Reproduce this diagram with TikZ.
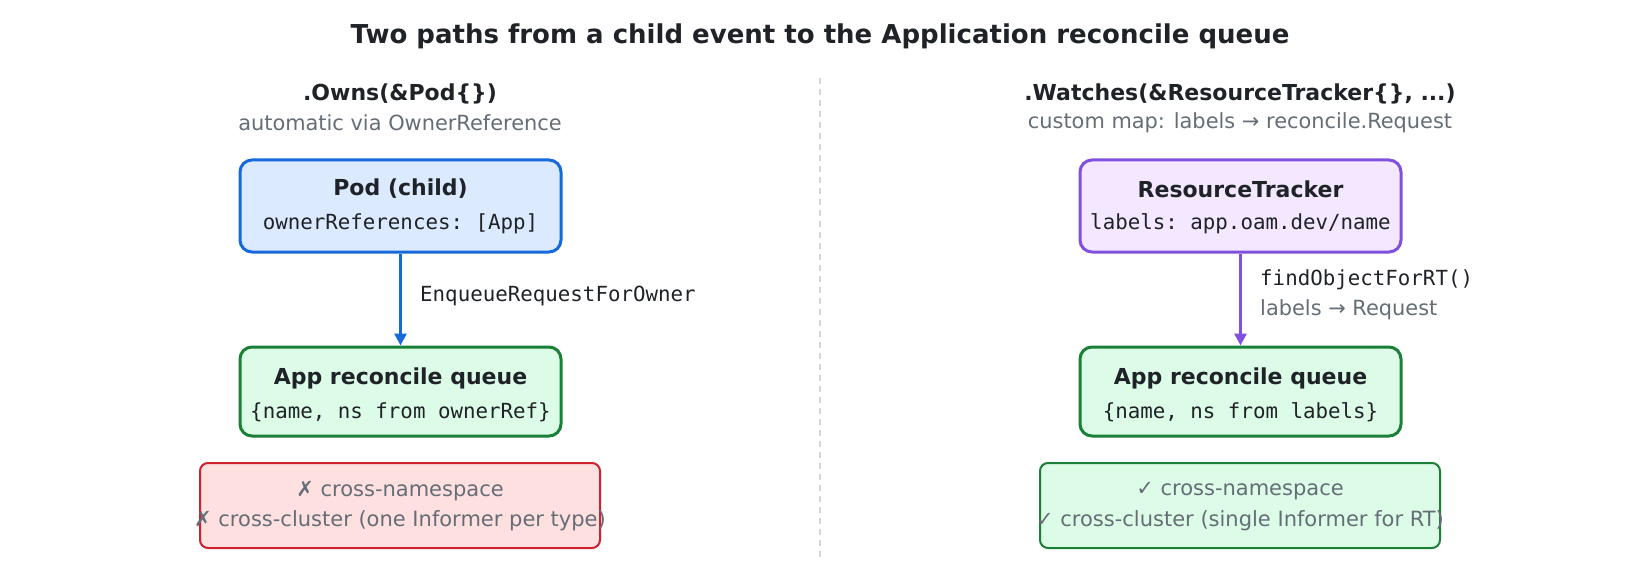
\documentclass[tikz,border=0pt]{standalone}
\usepackage{fontspec}
\setmainfont{DejaVu Sans}
\setmonofont{DejaVu Sans Mono}
\usetikzlibrary{arrows.meta}
\definecolor{ink}{HTML}{1F2328}
\definecolor{muted}{HTML}{656D76}
\definecolor{bluestroke}{HTML}{1769DB}
\definecolor{bluefill}{HTML}{DBEAFE}
\definecolor{greenstroke}{HTML}{1A7F37}
\definecolor{greenfill}{HTML}{DCFCE7}
\definecolor{purplestroke}{HTML}{8250DF}
\definecolor{purplefill}{HTML}{F3E8FF}
\definecolor{redstroke}{HTML}{CF222E}
\definecolor{redfill}{HTML}{FFE0E0}
\definecolor{divider}{HTML}{D0D7DE}
\tikzset{
  mainbox/.style={draw, line width=3pt, rounded corners=12pt, minimum width=321pt, minimum height=92pt, inner sep=0pt},
  notebox/.style={draw, line width=2pt, rounded corners=8pt, minimum width=400pt, minimum height=85pt, inner sep=0pt},
  boxtitle/.style={font=\fontsize{22}{26}\selectfont\bfseries, text=ink, inner sep=0pt},
  boxcode/.style={font=\fontsize{20.8}{25}\selectfont\ttfamily, text=ink, inner sep=0pt},
  coltitle/.style={font=\fontsize{22}{26}\selectfont\bfseries, text=ink, inner sep=0pt},
  colsub/.style={font=\fontsize{20.9}{25}\selectfont, text=muted, inner sep=0pt},
  notetext/.style={font=\fontsize{21}{25}\selectfont, text=muted, inner sep=0pt},
  flow/.style={line width=3pt, -{Triangle[length=12pt,width=12pt]}},
}
\begin{document}
\begin{tikzpicture}[x=1pt,y=-1pt]
\fill[white] (0,0) rectangle (1640,580);
\useasboundingbox (0,0) rectangle (1640,580);

\node[font=\fontsize{26}{30}\selectfont\bfseries, text=ink, inner sep=0pt] (title) at (820,36) {Two paths from a child event to the Application reconcile queue};

\coordinate (divtop) at (820,78);
\coordinate (divbot) at (820,560);
\draw[divider, line width=1.5pt, dash pattern=on 6pt off 5pt] (divtop) -- (divbot);

% left column
\node[coltitle] (lhead) at (400,94) {.Owns(\&Pod\{\})};
\node[colsub] (lsub) at (400,123) {automatic via OwnerReference};

\node[mainbox, draw=bluestroke, fill=bluefill] (pod) at (400.5,206) {};
\node[boxtitle] (podt) at (400.5,189) {Pod (child)};
\node[boxcode] (podc) at (400.5,224) {ownerReferences: [App]};

\node[mainbox, draw=greenstroke, fill=greenfill, minimum height=89pt] (lq) at (400.5,391.5) {};
\node[boxtitle] (lqt) at (400.5,378) {App reconcile queue};
\node[boxcode] (lqc) at (400.5,412) {\{name, ns from ownerRef\}};

\draw[flow, bluestroke] (pod.south) -- (lq.north);
\node[boxcode, anchor=west] (lab1) at (420,296) {EnqueueRequestForOwner};

\node[notebox, draw=redstroke, fill=redfill] (lnote) at (400,505.5) {};
\node[notetext] (ln1) at (400,491) {✗ cross-namespace};
\node[notetext] (ln2) at (400,521) {✗ cross-cluster (one Informer per type)};

% right column
\node[coltitle] (rhead) at (1240,94) {.Watches(\&ResourceTracker\{\}, ...)};
\node[colsub] (rsub) at (1240,123) {custom map: labels → reconcile.Request};

\node[mainbox, draw=purplestroke, fill=purplefill] (rt) at (1240.5,206) {};
\node[boxtitle] (rtt) at (1240.5,189) {ResourceTracker};
\node[boxcode] (rtc) at (1240.5,224) {labels: app.oam.dev/name};

\node[mainbox, draw=greenstroke, fill=greenfill, minimum height=89pt] (rq) at (1240.5,391.5) {};
\node[boxtitle] (rqt) at (1240.5,378) {App reconcile queue};
\node[boxcode] (rqc) at (1240.5,412) {\{name, ns from labels\}};

\draw[flow, purplestroke] (rt.south) -- (rq.north);
\node[boxcode, anchor=west] (lab2) at (1260,280) {findObjectForRT()};
\node[colsub, anchor=west] (lab3) at (1260,310) {labels → Request};

\node[notebox, draw=greenstroke, fill=greenfill] (rnote) at (1240,505.5) {};
\node[notetext] (rn1) at (1240,491) {✓ cross-namespace};
\node[notetext] (rn2) at (1240,521) {✓ cross-cluster (single Informer for RT)};
\end{tikzpicture}
\end{document}
